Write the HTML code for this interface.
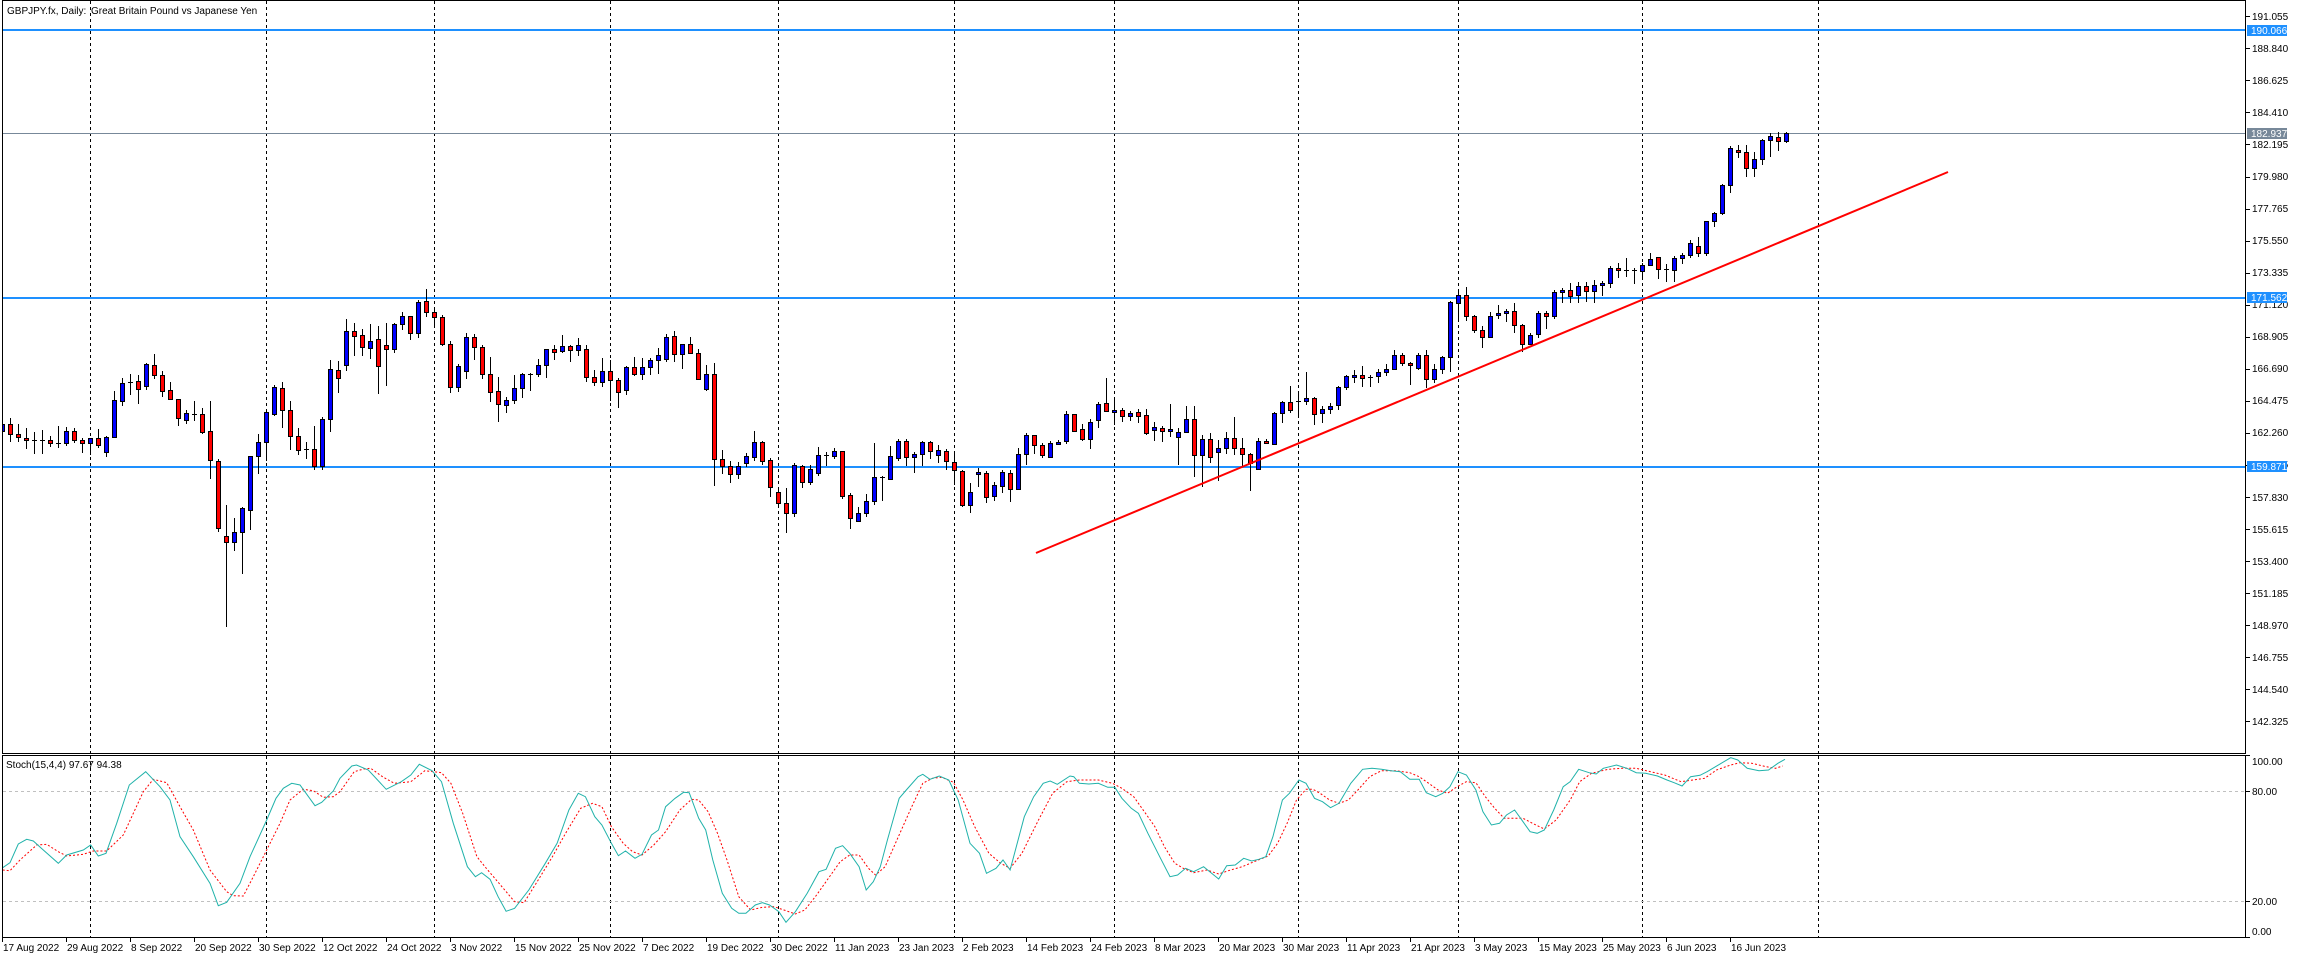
<!DOCTYPE html>
<html><head><meta charset="utf-8"><style>
html,body{margin:0;padding:0;background:#fff;}
svg{display:block;}
text{font-family:"Liberation Sans",Arial,sans-serif;font-size:10px;fill:#000;}
</style></head><body>
<svg id="s" width="2298" height="958" viewBox="0 0 2298 958" xmlns="http://www.w3.org/2000/svg">
<rect x="0" y="0" width="2298" height="958" fill="#fff"/>
<g id="grid" stroke="#000" stroke-width="1" stroke-dasharray="3,3" shape-rendering="crispEdges"></g>
<g stroke="#C0C0C0" stroke-width="1" stroke-dasharray="3,3" shape-rendering="crispEdges">
<line x1="3" y1="791.5" x2="2245" y2="791.5"/>
<line x1="3" y1="901.5" x2="2245" y2="901.5"/>
</g>
<rect x="2" y="29" width="2243" height="2" fill="#1E90FF"/>
<rect x="2" y="297" width="2243" height="2" fill="#1E90FF"/>
<rect x="2" y="466" width="2243" height="2" fill="#1E90FF"/>
<rect x="2" y="133" width="2243" height="1" fill="#778899"/>
<defs><clipPath id="cm"><rect x="3" y="1" width="2242" height="752"/></clipPath>
<clipPath id="cs"><rect x="3" y="756" width="2242" height="181"/></clipPath></defs>
<g id="candles" clip-path="url(#cm)" shape-rendering="crispEdges"></g>
<line x1="1036" y1="553" x2="1948" y2="172" stroke="#FF0000" stroke-width="2"/>
<g clip-path="url(#cs)">
<polyline id="sig" fill="none" stroke="#FF0000" stroke-width="1" stroke-dasharray="2,2"/>
<polyline id="mainl" fill="none" stroke="#20B2AA" stroke-width="1"/>
</g>
<g fill="#000" shape-rendering="crispEdges">
<rect x="2" y="0" width="2244" height="1"/>
<rect x="2" y="0" width="1" height="754"/>
<rect x="2245" y="0" width="1" height="754"/>
<rect x="2" y="753" width="2244" height="1"/>
<rect x="2" y="755" width="2244" height="1"/>
<rect x="2" y="755" width="1" height="183"/>
<rect x="2245" y="755" width="1" height="183"/>
<rect x="2" y="937" width="2244" height="1"/>
</g>
<g id="ticks" fill="#000" shape-rendering="crispEdges"></g>
<text x="7" y="14">GBPJPY.fx, Daily:</text>
<text x="91" y="14">Great Britain Pound vs Japanese Yen</text>
<text x="6" y="768">Stoch(15,4,4) 97.67 94.38</text>
<g>
<text x="2252" y="20">191.055</text>
<text x="2252" y="52">188.840</text>
<text x="2252" y="84">186.625</text>
<text x="2252" y="116">184.410</text>
<text x="2252" y="148">182.195</text>
<text x="2252" y="180">179.980</text>
<text x="2252" y="212">177.765</text>
<text x="2252" y="244">175.550</text>
<text x="2252" y="276">173.335</text>
<text x="2252" y="308">171.120</text>
<text x="2252" y="340">168.905</text>
<text x="2252" y="372">166.690</text>
<text x="2252" y="404">164.475</text>
<text x="2252" y="436">162.260</text>
<text x="2252" y="468">160.045</text>
<text x="2252" y="501">157.830</text>
<text x="2252" y="533">155.615</text>
<text x="2252" y="565">153.400</text>
<text x="2252" y="597">151.185</text>
<text x="2252" y="629">148.970</text>
<text x="2252" y="661">146.755</text>
<text x="2252" y="693">144.540</text>
<text x="2252" y="725">142.325</text>
</g>
<rect x="2247" y="25" width="40" height="11" fill="#1E90FF"/>
<text x="2251" y="34" style="fill:#fff">190.066</text>
<rect x="2247" y="128" width="40" height="11" fill="#778899"/>
<text x="2251" y="137" style="fill:#fff">182.937</text>
<rect x="2247" y="292" width="40" height="11" fill="#1E90FF"/>
<text x="2251" y="301" style="fill:#fff">171.562</text>
<rect x="2247" y="461" width="40" height="11" fill="#1E90FF"/>
<text x="2251" y="470" style="fill:#fff">159.871</text>
<text x="2252" y="765">100.00</text>
<text x="2252" y="795">80.00</text>
<text x="2252" y="905">20.00</text>
<text x="2252" y="935">0.00</text>
<g>
<text x="3" y="951">17 Aug 2022</text>
<text x="67" y="951">29 Aug 2022</text>
<text x="131" y="951">8 Sep 2022</text>
<text x="195" y="951">20 Sep 2022</text>
<text x="259" y="951">30 Sep 2022</text>
<text x="323" y="951">12 Oct 2022</text>
<text x="387" y="951">24 Oct 2022</text>
<text x="451" y="951">3 Nov 2022</text>
<text x="515" y="951">15 Nov 2022</text>
<text x="579" y="951">25 Nov 2022</text>
<text x="643" y="951">7 Dec 2022</text>
<text x="707" y="951">19 Dec 2022</text>
<text x="771" y="951">30 Dec 2022</text>
<text x="835" y="951">11 Jan 2023</text>
<text x="899" y="951">23 Jan 2023</text>
<text x="963" y="951">2 Feb 2023</text>
<text x="1027" y="951">14 Feb 2023</text>
<text x="1091" y="951">24 Feb 2023</text>
<text x="1155" y="951">8 Mar 2023</text>
<text x="1219" y="951">20 Mar 2023</text>
<text x="1283" y="951">30 Mar 2023</text>
<text x="1347" y="951">11 Apr 2023</text>
<text x="1411" y="951">21 Apr 2023</text>
<text x="1475" y="951">3 May 2023</text>
<text x="1539" y="951">15 May 2023</text>
<text x="1603" y="951">25 May 2023</text>
<text x="1667" y="951">6 Jun 2023</text>
<text x="1731" y="951">16 Jun 2023</text>
</g>
</svg>
<script>
(function(){
var NS="http://www.w3.org/2000/svg";
function el(p,tag,a){var e=document.createElementNS(NS,tag);for(var k in a)e.setAttribute(k,a[k]);p.appendChild(e);return e;}
// grid
var g=document.getElementById('grid');
[90,266,434,610,778,954,1114,1298,1458,1642,1818].forEach(function(x){
 el(g,'line',{x1:x+0.5,y1:1,x2:x+0.5,y2:753});
 el(g,'line',{x1:x+0.5,y1:756,x2:x+0.5,y2:937});
});
// ticks
var t=document.getElementById('ticks');
for(var k=0;k<23;k++){var y=Math.round(16.3+32.04*k);el(t,'rect',{x:2246,y:y,width:4,height:1});}
[755,791,901,937].forEach(function(y){el(t,'rect',{x:2246,y:y,width:4,height:1});});
for(var k=0;k<28;k++){el(t,'rect',{x:2+64*k,y:938,width:1,height:4});}
// candles [i,top,bot,hi,lo,c] c:1 blue,2 red,0 doji
var C=[[0,424,431,420,433,1],[1,424,434,418,442,2],[2,434,437,424,442,2],[3,438,440,428,449,2],[4,440,440,432,454,0],[5,440,440,430,454,0],[6,440,443,436,447,2],[7,443,443,426,448,0],[8,431,443,427,446,1],[9,431,440,428,443,2],[10,440,443,438,453,2],[11,438,443,438,455,1],[12,438,445,429,448,2],[13,437,452,436,457,1],[14,400,437,391,437,1],[15,383,401,378,406,1],[16,382,382,374,395,0],[17,381,389,375,404,2],[18,364,386,363,390,1],[19,365,375,354,379,2],[20,375,391,371,397,2],[21,390,399,382,400,2],[22,399,418,399,426,2],[23,413,420,410,424,1],[24,414,414,401,421,0],[25,414,432,408,434,2],[26,431,460,401,479,2],[27,461,528,459,532,2],[28,536,542,505,627,2],[29,532,542,518,551,1],[30,508,532,507,574,1],[31,456,510,456,530,1],[32,442,456,434,474,1],[33,412,442,412,461,1],[34,387,414,385,416,1],[35,388,410,382,428,2],[36,410,436,401,450,2],[37,436,450,428,455,2],[38,449,449,442,459,0],[39,449,466,426,470,2],[40,419,466,417,470,1],[41,369,419,360,432,1],[42,370,378,361,393,2],[43,331,365,319,371,1],
[44,331,336,323,356,2],[45,335,347,329,356,2],[46,341,348,324,359,1],[47,339,366,326,394,2],[48,345,349,323,386,2],[49,324,349,323,353,1],[50,316,324,312,330,1],[51,316,333,316,340,2],[52,302,333,300,338,1],[53,301,312,289,317,2],[54,312,317,307,328,2],[55,317,344,315,346,2],[56,344,387,341,393,2],[57,366,387,364,392,1],[58,337,371,333,379,1],[59,337,347,334,360,2],[60,347,374,345,379,2],[61,374,392,357,402,2],[62,391,404,377,422,2],[63,400,405,397,413,1],[64,388,400,375,404,1],[65,374,388,373,398,1],[66,374,374,373,391,0],[67,365,374,359,377,1],[68,349,365,349,378,1],[69,349,352,345,360,2],[70,346,351,335,353,1],[71,346,350,345,362,2],[72,345,350,338,356,1],[73,349,377,345,382,2],[74,377,382,370,386,2],[75,371,382,358,387,1],[76,371,380,360,401,2],[77,380,392,378,408,2],[78,367,390,366,395,1],[79,367,374,357,376,2],[80,367,374,358,380,1],[81,360,367,358,375,1],[82,355,360,348,374,1],[83,337,359,334,362,1],[84,336,354,331,362,2],[85,344,354,344,369,1],[86,344,353,337,354,2],[87,353,379,349,380,2],[88,374,389,365,391,1],[89,374,459,363,486,2],[90,459,466,450,474,2],[91,466,474,461,483,2],[92,466,474,462,479,1],[93,456,463,453,467,1],[94,442,457,431,461,1],[95,442,461,441,465,2],[96,460,487,458,497,2],[97,492,503,488,506,2],[98,503,513,488,533,2],[99,465,513,463,517,1],[100,466,482,465,488,2],[101,469,482,465,485,1],[102,455,473,447,476,1],[103,455,455,452,466,0],[104,451,456,448,459,1],[105,451,496,451,499,2],[106,495,518,493,529,2],[107,513,521,507,521,1],[108,501,513,494,517,1],[109,477,501,443,505,1],[110,477,477,476,501,0],[111,456,479,446,480,1],[112,441,458,439,461,1],[113,441,457,439,466,2],[114,454,457,452,473,1],[115,442,454,441,466,1],[116,442,451,441,459,2],[117,450,455,445,463,1],[118,451,461,449,470,2],[119,462,470,452,485,2],
[120,471,505,470,507,2],[121,492,505,483,513,1],[122,472,474,468,487,1],[123,473,497,471,503,2],[124,485,496,482,501,1],[125,472,486,470,493,1],[126,473,489,470,502,2],[127,454,489,448,489,1],[128,435,454,433,465,1],[129,435,445,435,454,2],[130,445,455,443,458,2],[131,443,457,441,458,1],[132,442,444,440,444,1],[133,414,441,411,444,1],[134,414,431,414,431,2],[135,429,439,424,441,2],[136,422,439,419,449,1],[137,404,420,402,428,1],[138,403,411,378,412,2],[139,410,412,398,425,1],[140,410,416,408,422,2],[141,413,416,411,421,1],[142,412,416,409,423,2],[143,415,433,409,435,2],[144,427,430,422,441,1],[145,428,431,426,442,2],[146,429,431,404,437,1],[147,432,437,428,465,1],[148,419,432,406,433,1],[149,419,455,406,477,2],[150,439,455,435,487,1],[151,439,457,433,463,2],[152,448,452,440,481,1],[153,438,448,432,454,1],[154,438,448,417,455,2],[155,448,454,438,466,2],[156,454,463,453,491,2],[157,441,469,438,470,1],[158,441,443,439,444,2],[159,413,444,412,444,1],[160,402,413,401,423,1],[161,402,410,386,413,2],[162,401,401,392,418,0],[163,398,401,372,405,1],[164,398,414,397,425,2],[165,409,413,406,423,1],[166,406,409,403,414,1],[167,387,405,386,410,1],[168,376,387,375,390,1],[169,375,377,370,383,1],[170,375,378,366,387,2],[171,377,378,375,387,1],[172,372,376,369,383,1],[173,369,372,364,376,1],[174,355,369,350,370,1],[175,355,363,353,366,2],[176,363,365,362,385,2],[177,355,368,353,370,1],[178,355,379,350,388,2],[179,369,379,364,383,1],[180,357,369,356,374,1],[181,302,357,301,372,1],[182,295,303,290,321,1],[183,295,316,287,321,2],[184,316,330,315,333,2],[185,330,337,326,348,2],[186,316,337,312,338,1],[187,313,315,305,319,1],[188,311,313,309,322,1],[189,311,325,303,333,2],[190,325,344,324,352,2],[191,335,344,333,345,1],[192,313,334,311,338,1],[193,313,316,311,329,2],[194,292,316,290,319,1],[195,290,292,288,303,1],
[196,290,296,283,303,2],[197,286,295,282,303,1],[198,286,291,282,302,2],[199,285,291,280,303,1],[200,283,285,281,296,1],[201,268,283,266,288,1],[202,268,270,263,278,2],[203,270,270,258,277,0],[204,270,271,268,284,0],[205,265,271,263,280,1],[206,259,265,253,266,1],[207,257,269,257,279,2],[208,269,270,264,282,0],[209,258,270,256,282,1],[210,255,258,253,264,1],[211,243,255,240,258,1],[212,246,253,237,257,2],[213,221,253,221,256,1],[214,213,221,212,227,1],[215,185,213,184,215,1],[216,148,185,146,193,1],[217,150,152,145,158,2],[218,152,168,145,177,2],[219,159,168,152,177,1],[220,140,159,139,165,1],[221,136,140,133,157,1],[222,137,141,132,151,2],[223,133,141,132,143,1]];
var cg=document.getElementById('candles');
C.forEach(function(d){
 var x=2+8*d[0],tp=d[1],bt=d[2],hi=d[3],lo=d[4],c=d[5];
 el(cg,'rect',{x:x,y:hi,width:1,height:Math.max(lo-hi,1),fill:'#000'});
 if(c===0||bt-tp<2){
  el(cg,'rect',{x:x-2,y:tp,width:5,height:Math.max(bt-tp,1),fill:'#000'});
  if(c!==0&&bt-tp>=1){}
 } else {
  el(cg,'rect',{x:x-2,y:tp,width:5,height:bt-tp+1,fill:'#000'});
  el(cg,'rect',{x:x-1,y:tp+1,width:3,height:Math.max(bt-tp-1,1),fill:c===1?'#0000FF':'#FF0000'});
 }
});
// stochastic
var M=[[2.7,867.7],[10,862.7],[18.3,844],[26.7,839.3],[33.3,841],[43.3,850],[58.3,863.3],[66.7,855],[83.3,850],[90.7,845],[98.3,856],[106,853.3],[116.7,823.3],[129.3,785],[145.7,771.7],[160,786.7],[170,800],[180,836.7],[193.3,856.7],[210,883.3],[218.3,905.7],[226.7,902.3],[240,883.3],[250,856.7],[266.7,820],[276,798.3],[283.3,788.3],[291.7,783.3],[300,785],[315,805.7],[321.7,802.3],[333.3,791],
[340,778.3],[351.8,766],[356.5,765],[368.3,770],[386.2,789.3],[401.3,781.7],[410.8,775],[419.3,764.3],[432,770.7],[441.5,781.7],[453.3,823.3],[467.4,866.7],[475.4,876.7],[481.6,872.7],[490.1,879.3],[498.1,896.7],[506.1,911.3],[514.6,908.3],[528.8,890],[545.3,863.3],[557.1,843.3],[568.9,810],[578.3,793.3],[585.4,796.7],[594.8,816.7],[601.9,825],[611.4,843.3],[618.4,855.7],[625.5,851],[635,858.3],[642,854.3],[651.5,835],[658.5,830],[665.6,806.7],[675.1,798.3],[683.6,792.3],[689.2,792.7],[698.7,818.3],[705.7,830],[712.8,860],[722.3,893.3],[731.7,908.3],[738.8,913.3],[745.9,913.3],[755.3,905],[762.4,902.7],[769.5,905],[778.9,911.7],[786,922.3],[795.4,911.7],[807.2,893.3],[819,871.7],[826.1,869.3],[835.5,848.3],[842.6,845.7],[849.7,853.3],[859.1,866.7],[866.2,890],[873.3,881.7],[880.3,866.7],[887.4,840],[899.2,798.3],[906.3,790],[918.1,776.7],[922.8,774.3],[929.9,779.3],[939.3,776],[948.8,780],[958.2,800],[970,843.3],[979.5,853.3],[986.5,873.3],[996,868.3],[1003,860],[1010.1,870],[1024.3,816.7],[1033.7,796.7],[1043.2,783.3],[1050.2,781],[1057.3,784.3],
[1070,776],[1073.8,776.7],[1079.4,783.3],[1088.9,784],[1098.3,783.3],[1107.8,787.3],[1114.8,787.3],[1121.9,798.3],[1131.3,808.3],[1138.4,813.3],[1147.9,833.3],[1159.7,856.7],[1170,876.7],[1177.6,875],[1185.6,868.3],[1193.6,871.7],[1203.6,866.7],[1211.6,873.3],[1218.7,879],[1226.7,865.7],[1235.2,865],[1243.7,858.3],[1251.7,861],[1258.8,859.3],[1265.8,856.7],[1272.9,836.7],[1282.4,800],[1289.4,793.3],[1298.9,780],[1306,783.3],[1314.5,798.3],[1322.5,801.7],[1330.5,807.7],[1339,803.3],[1350.8,783.3],[1362.6,769.3],[1372,768.3],[1381.5,769.3],[1390.9,770.7],[1400.3,771.7],[1409.8,779.3],[1419.2,779.3],[1426.3,792.7],[1435.7,796.7],[1442.8,793.3],[1449.9,786.7],[1457.9,771.7],[1466.4,775],[1475.9,790],[1482.9,811.7],[1491.4,825],[1499.5,823.3],[1506.5,815],[1514.6,810],[1523,821.7],[1530.1,831.7],[1537.2,833.3],[1544.3,830],[1553.7,810],[1563.2,786.7],[1570.2,781.7],[1578.7,769.3],[1589.1,772.7],[1596.2,774],[1603.3,768.3],[1616.5,765],[1626.9,768.3],[1636.3,772.7],[1645.7,773.3],[1657.5,776],[1667,780],[1674.1,782.7],[1682.1,786],[1690.6,776.7],[1700,775.3],[1707.1,771.7],[1721.2,763.3],[1730.7,757.7],[1737.8,760],[1747.2,768.3],[1759,770.7],[1768.5,770],[1777.9,763.3],[1785,759.3]];
var S=[[2.7,870],[10,870.7],[20,860],[36.7,845],[46.7,844.3],[58.3,851.7],[66.7,856],[83.3,854.3],[93.3,851],[106.7,851],[123.3,835],[143.3,791.7],[153.3,779.3],[166.7,782.7],[180,806.7],[193.3,830],[210,870],[226.7,891.7],[233.3,895.7],[243.3,896],[253.3,876.7],[266.7,850],[280,823.3],[290,800],[303.3,789.3],[313.3,790.7],[323.3,797.3],[333.3,796.7],
[340,791.7],[354.2,771.7],[363.6,769],[370.7,768.3],[382.5,776.7],[394.3,783.3],[410.8,781.7],[424.9,770.7],[441.5,772.7],[450.9,783.3],[462.7,813.3],[476.9,856.7],[486.3,868.3],[500.5,885],[514.6,901.7],[524,902.7],[538.2,880],[552.4,856.7],[566.5,831.7],[580.7,808.3],[592.5,803.3],[601.9,806.7],[611.4,826.7],[623.2,843.3],[632.6,851.7],[642,855],[653.8,845],[665.6,831.7],[679.8,810],[691.6,799.3],[698.7,800],[708.1,811.7],[717.5,833.3],[727,860],[738.8,896.7],[750.6,910],[762.4,907.3],[774.2,906.7],[786,910.7],[795.4,914],[804.8,910],[816.6,895],[828.4,878.3],[840.2,861.7],[849.7,855],[859.1,855],[868.5,868.3],[875.6,875],[885.1,866.7],[896.9,840],[911,808.3],[922.8,783.3],[932.3,778.3],[941.7,777.3],[953.5,782.3],[963,800],[974.7,826.7],[988.9,853.3],[1000.7,863.3],[1010.1,868.3],[1021.9,853.3],[1038.5,820],[1052.6,793.3],[1066.8,781.7],
[1079.4,780],[1098.3,780],[1112.5,783.3],[1121.9,788.3],[1133.7,796.7],[1145.5,813.3],[1154.9,826.7],[1164.4,846.7],[1174.8,863.3],[1183.3,868.3],[1193.6,872.7],[1206.9,870],[1218.7,874],[1230.5,870],[1242.3,866.7],[1254.1,861.7],[1268.2,856],[1277.6,843.3],[1287.1,823.3],[1296.5,800],[1306,789.3],[1313,789.3],[1320.1,793.3],[1329.6,800],[1339,803.3],[1348.4,800],[1357.9,790],[1369.7,776.7],[1381.5,770.7],[1395.6,770.7],[1409.8,772.7],[1419.2,776.7],[1428.7,783.3],[1438.1,790],[1447.5,793.3],[1457,786.7],[1466.4,781.7],[1475.9,782.7],[1485.3,796.7],[1494.7,808.3],[1504.2,818.3],[1513.6,818.3],[1523,818.3],[1532.5,823.3],[1544.3,829],[1556.1,820],[1570.2,800],[1579.7,781.7],[1591.5,773.3],[1608,769.3],[1622.2,768.3],[1636.3,768.3],[1650.5,771.7],[1664.7,775],[1681.1,781.7],[1692.9,780],[1704.7,778.3],[1716.5,770],[1730.7,765],[1740.1,762.7],[1751.9,763.3],[1766.1,766.7],[1775.5,768.3],[1782.6,766]];
function pts(a){return a.map(function(p){return p[0]+','+p[1];}).join(' ');}
document.getElementById('mainl').setAttribute('points',pts(M));
document.getElementById('sig').setAttribute('points',pts(S));
})();
</script>
</body></html>
